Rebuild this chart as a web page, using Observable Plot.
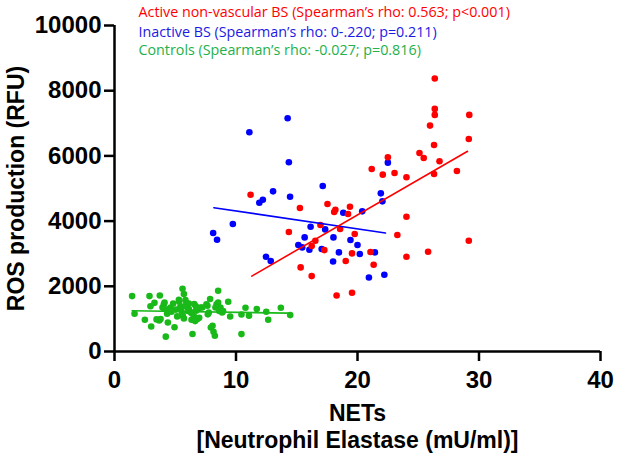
<!DOCTYPE html>
<html><head><meta charset="utf-8">
<script src="https://cdn.jsdelivr.net/npm/d3@7"></script>
<script src="https://cdn.jsdelivr.net/npm/@observablehq/plot@0.6"></script>
<style>html,body{margin:0;padding:0;background:#fff;}</style>
</head><body><div id="chart"></div>
<script>
const xTicks = [0, 10, 20, 30, 40];
const yTicks = [0, 2000, 4000, 6000, 8000, 10000];

const legendLabels = [
  "Active non-vascular BS (Spearman\u2019s rho: 0.563; p<0.001)",
  "Inactive BS (Spearman\u2019s rho: 0-.220; p=0.211)",
  "Controls (Spearman\u2019s rho: -0.027; p=0.816)"
];
const xTitle1 = "NETs";
const xTitle2 = "[Neutrophil Elastase (mU/ml)]";
const yTitle = "ROS production (RFU)";

// Active non-vascular BS (red)
const redX = [26.36,26.36,26.36,29.2,25.97,26.3,29.16,22.5,25.1,25.45,26.75,21.17,22.08,23.05,24.03,26.3,28.18,11.2,15.26,17.53,18.18,18.08,19.38,19.22,24.03,14.35,16.95,18.57,19.77,23.28,16.53,29.16,16.23,17.27,19.55,21.07,25.81,24.03,19.03,21.33,15.32,16.23,18.28,19.55];
const redY = [8372,7441,7257,7257,6929,6335,6520,5957,6090,5936,5834,5599,5425,5476,5343,5445,5537,4810,4401,4524,4350,4278,4442,4217,4135,3664,3879,3756,3603,3572,3398,3398,3234,3111,3009,3050,3060,2907,2774,2661,2579,2313,1719,1801];

// Inactive BS (blue)
const blueX = [14.25,11.1,14.35,22.5,17.14,13.05,12.21,11.92,14.45,21.92,22.05,20.39,18.83,9.74,8.12,8.44,16.14,17.34,15.65,18.02,19.42,15.13,15.45,16.04,17.05,20.0,18.47,20.19,21.43,12.47,12.86,17.99,20.94,22.21];
const blueY = [7154,6724,5803,5793,5077,4913,4657,4565,4749,4851,4606,4299,4258,3910,3633,3429,3828,3746,3500,3500,3418,3265,3193,3122,3142,3265,3040,2989,3040,2907,2774,2763,2272,2354];

// Controls (green)
const greenX = [1.45,1.65,2.5,2.88,2.96,3.02,3.29,3.46,3.73,3.68,3.79,3.95,4.06,4.12,4.12,4.22,4.33,4.39,4.5,4.61,4.69,4.83,4.94,5.05,5.16,5.32,5.3,5.43,5.35,5.49,5.57,5.62,5.6,5.71,5.71,5.84,5.84,5.98,6.04,6.12,6.12,6.3,6.34,6.34,6.42,6.53,6.56,6.64,6.69,6.72,6.8,6.83,6.97,7.08,7.22,7.57,7.65,7.68,7.76,7.87,7.93,8.07,8.15,8.26,8.31,8.4,8.53,8.53,8.62,8.64,8.72,8.86,8.94,9.36,9.52,10.45,10.45,10.78,11.07,11.71,12.49,12.65,13.69,14.46];
const greenY = [1699,1160,974,1699,1388,767,1492,984,1720,953,995,1351,1450,1305,1505,456,1160,890,1302,1347,1222,1471,746,1285,1077,1533,1587,1388,1302,1264,1140,1096,1927,1761,1015,1575,1403,1367,1243,1471,1302,1200,1179,973,539,1077,1455,932,1388,1250,1285,995,1036,1347,1351,1450,1403,1140,1198,1609,737,787,605,482,1351,1450,1864,1505,1243,1302,1347,1198,1243,1526,1075,534,1136,1342,1100,1302,1219,973,1342,1117];

// Fitted lines (endpoints)
const redFitX = [11.3, 29.06], redFitY = [2313, 6141];
const blueFitX = [8.18, 22.3], blueFitY = [4411, 3633];
const greenFitX = [1.45, 14.3], greenFitY = [1250, 1178];

const colors = {red: "#ff0000", blue: "#0000ff", green: "#19b919"};
const legendColors = ["#ff0000", "#1a1ae6", "#22b14c"];

const pts = (xs, ys) => xs.map((x, i) => ({x, y: ys[i]}));
const red = pts(redX, redY), blue = pts(blueX, blueY), green = pts(greenX, greenY);
const redFit = pts(redFitX, redFitY), blueFit = pts(blueFitX, blueFitY), greenFit = pts(greenFitX, greenFitY);

const titleFont = "Liberation Sans, Arial, sans-serif";
const legendFont = "Open Sans";

const chart = Plot.plot({
  width: 622, height: 454,
  marginLeft: 114, marginRight: 22, marginTop: 25, marginBottom: 103,
  style: {fontFamily: titleFont, background: "#fff", color: "#000"},
  x: {domain: [0, 40]},
  y: {domain: [0, 10000]},
  marks: [
    Plot.axisX({ticks: xTicks, tickSize: 10, tickPadding: 9, tickFormat: d => String(d), label: null, fontSize: 24, fontWeight: "bold", strokeWidth: 2.5}),
    Plot.axisY({ticks: yTicks, tickSize: 10, tickPadding: 3, tickFormat: d => String(d), label: null, fontSize: 24, fontWeight: "bold", strokeWidth: 2.5}),
    Plot.ruleX([0], {stroke: "#000", strokeWidth: 2.5}),
    Plot.ruleY([0], {stroke: "#000", strokeWidth: 2.5}),
    Plot.dot(green, {x: "x", y: "y", r: 3.3, fill: colors.green, stroke: "none"}),
    Plot.dot(blue, {x: "x", y: "y", r: 3.3, fill: colors.blue, stroke: "none"}),
    Plot.dot(red, {x: "x", y: "y", r: 3.3, fill: colors.red, stroke: "none"}),
    Plot.line(greenFit, {x: "x", y: "y", stroke: colors.green, strokeWidth: 1.6}),
    Plot.line(blueFit, {x: "x", y: "y", stroke: colors.blue, strokeWidth: 1.6}),
    Plot.line(redFit, {x: "x", y: "y", stroke: colors.red, strokeWidth: 1.6}),
    Plot.text([yTitle], {frameAnchor: "left", dx: -98, rotate: -90, textAnchor: "middle", lineAnchor: "middle", fontSize: 23, fontWeight: "bold", fill: "#000"}),
    Plot.text([xTitle1], {frameAnchor: "bottom", dy: 62, textAnchor: "middle", lineAnchor: "middle", fontSize: 23, fontWeight: "bold", fill: "#000"}),
    Plot.text([xTitle2], {frameAnchor: "bottom", dy: 89, textAnchor: "middle", lineAnchor: "middle", fontSize: 23, fontWeight: "bold", fill: "#000"}),
    Plot.text([legendLabels[0]], {frameAnchor: "top-left", dx: 24, dy: -13, textAnchor: "start", lineAnchor: "middle", fontSize: 14.3, fontFamily: legendFont, fill: legendColors[0]}),
    Plot.text([legendLabels[1]], {frameAnchor: "top-left", dx: 24, dy: 7, textAnchor: "start", lineAnchor: "middle", fontSize: 14.3, fontFamily: legendFont, fill: legendColors[1]}),
    Plot.text([legendLabels[2]], {frameAnchor: "top-left", dx: 24, dy: 25, textAnchor: "start", lineAnchor: "middle", fontSize: 14.3, fontFamily: legendFont, fill: legendColors[2]})
  ]
});
document.getElementById("chart").appendChild(chart);
</script>
</body></html>
